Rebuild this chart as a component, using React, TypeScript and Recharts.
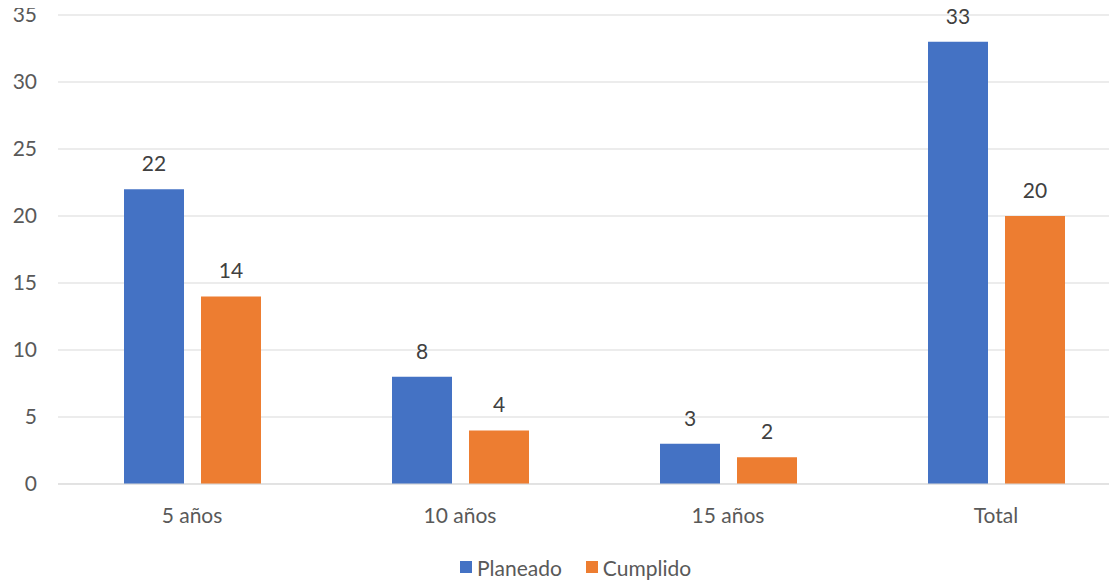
import React from "react";
import { BarChart, Bar, XAxis, YAxis, CartesianGrid, Legend, LabelList } from "recharts";

const categories = ["5 años", "10 años", "15 años", "Total"];
const planeado = [22, 8, 3, 33];
const cumplido = [14, 4, 2, 20];
const yTicks = [0, 5, 10, 15, 20, 25, 30, 35];

const data = categories.map((c, i) => ({ name: c, Planeado: planeado[i], Cumplido: cumplido[i] }));

const FONT = "Lato, 'Open Sans', sans-serif";
const BLUE = "#4472C4";
const ORANGE = "#ED7D31";
const TEXT = "#595959";
const FS = 21;

const LegendContent = () => (
  <div style={{ display: "flex", justifyContent: "flex-start", alignItems: "center", height: 26, fontFamily: FONT, fontSize: FS, color: TEXT, paddingLeft: 452 }}>
    <span style={{ display: "inline-block", width: 12, height: 12, background: BLUE, marginRight: 5 }} />
    <span style={{ marginRight: 24 }}>Planeado</span>
    <span style={{ display: "inline-block", width: 12, height: 12, background: ORANGE, marginRight: 5 }} />
    <span>Cumplido</span>
  </div>
);

export default function App() {
  return (
    <div style={{ width: 1109, height: 572, clipPath: "inset(-10px 0px 0px -10px)" }}>
      <style>{`.recharts-wrapper svg { overflow: visible; }`}</style>
      <BarChart
        width={1122}
        height={572}
        data={data}
        margin={{ top: 7, right: 0, left: 0, bottom: 0 }}
        barSize={60}
        barGap={17}
        style={{ fontFamily: FONT }}
      >
        <CartesianGrid vertical={false} stroke="#D9D9D9" strokeWidth={1} />
        <XAxis
          dataKey="name"
          height={70}
          tickLine={false}
          axisLine={{ stroke: "#D9D9D9" }}
          tick={{ fill: TEXT, fontSize: FS, fontFamily: FONT }}
          tickMargin={18}
        />
        <YAxis
          width={50}
          domain={[0, 35]}
          ticks={yTicks}
          interval={0}
          axisLine={false}
          tickLine={false}
          tick={{ fill: TEXT, fontSize: FS, fontFamily: FONT }}
          tickMargin={15}
        />
        <Legend verticalAlign="bottom" content={<LegendContent />} />
        <Bar dataKey="Planeado" fill={BLUE} isAnimationActive={false}>
          <LabelList dataKey="Planeado" position="top" offset={18} fill="#404040" fontSize={FS} fontFamily={FONT} />
        </Bar>
        <Bar dataKey="Cumplido" fill={ORANGE} isAnimationActive={false}>
          <LabelList dataKey="Cumplido" position="top" offset={18} fill="#404040" fontSize={FS} fontFamily={FONT} />
        </Bar>
      </BarChart>
    </div>
  );
}
